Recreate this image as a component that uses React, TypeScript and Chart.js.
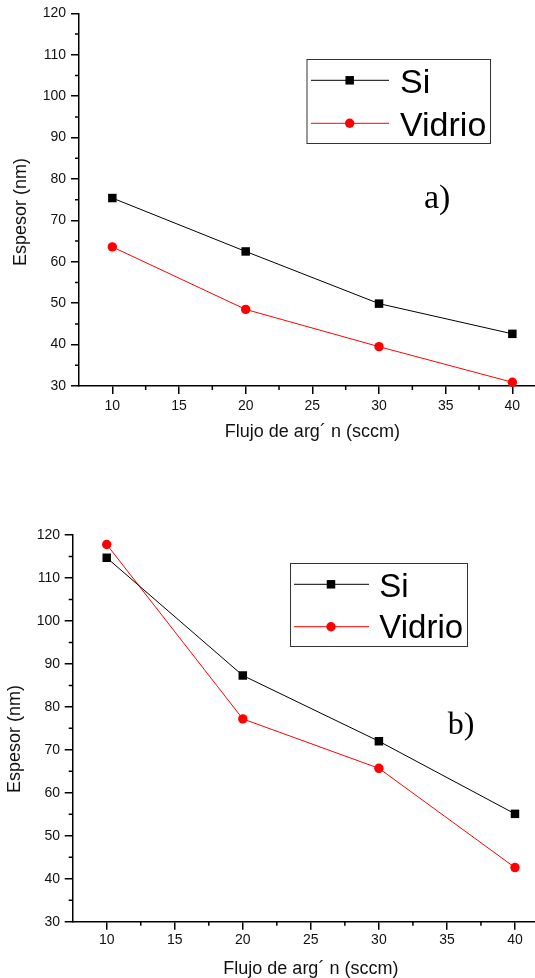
import React, { useEffect, useRef } from "react";
import { Chart, registerables } from "chart.js";

Chart.register(...registerables);

// ---- data ----
const FLOW = [10, 20, 30, 40];
const SI_A = [75.4, 62.5, 49.9, 42.6];
const VIDRIO_A = [63.6, 48.5, 39.5, 30.9];
const SI_B = [114.7, 87.3, 72.0, 55.1];
const VIDRIO_B = [117.8, 77.2, 65.7, 42.6];

const X_TICKS = [10, 15, 20, 25, 30, 35, 40];
const X_MINOR = [12.5, 17.5, 22.5, 27.5, 32.5, 37.5];
const Y_TICKS = [30, 40, 50, 60, 70, 80, 90, 100, 110, 120];
const Y_MINOR = [35, 45, 55, 65, 75, 85, 95, 105, 115];
const X_RANGE = [7.5, 42.5];
const Y_RANGE = [30, 120];

const SERIES_NAMES = ["Si", "Vidrio"];
const X_TITLE = "Flujo de arg\u00B4 n (sccm)";
const Y_TITLE = "Espesor (nm)";
const PANEL_LABELS = ["a)", "b)"];

const SANS = "Arial, 'Liberation Sans', sans-serif";
const SERIF = "'Times New Roman', 'Liberation Serif', serif";

const annotPlugin = {
  id: "annot",
  afterDraw(chart: any, _args: any, opts: any) {
    const ctx = chart.ctx as CanvasRenderingContext2D;
    const xs = chart.scales.x;
    const ys = chart.scales.y;
    ctx.save();
    // minor ticks
    ctx.strokeStyle = "#000";
    ctx.lineWidth = 1.5;
    ctx.beginPath();
    for (const v of X_MINOR) {
      const px = xs.getPixelForValue(v);
      ctx.moveTo(px, ys.bottom);
      ctx.lineTo(px, ys.bottom + 4);
    }
    for (const v of Y_MINOR) {
      const py = ys.getPixelForValue(v);
      ctx.moveTo(xs.left - 4, py);
      ctx.lineTo(xs.left, py);
    }
    ctx.stroke();

    // y axis title
    const yt = opts.yTitle;
    ctx.save();
    ctx.translate(yt.x, yt.y);
    ctx.rotate(-Math.PI / 2);
    ctx.fillStyle = "#111";
    ctx.font = `18px ${SANS}`;
    ctx.textAlign = "center";
    ctx.textBaseline = "middle";
    ctx.fillText(Y_TITLE, 0, 0);
    ctx.restore();

    // legend
    const lg = opts.legend;
    ctx.strokeStyle = "#333";
    ctx.lineWidth = 1;
    ctx.strokeRect(lg.x + 0.5, lg.y + 0.5, lg.w, lg.h);
    chart.data.datasets.forEach((ds: any, i: number) => {
      const ry = lg.rows[i];
      const by = lg.baselines[i];
      ctx.strokeStyle = ds.borderColor;
      ctx.lineWidth = 1;
      ctx.beginPath();
      ctx.moveTo(lg.x0, ry);
      ctx.lineTo(lg.x1, ry);
      ctx.stroke();
      ctx.fillStyle = ds.backgroundColor;
      if (ds.pointStyle === "rect") {
        const s = ds.pointRadius * Math.SQRT1_2;
        ctx.fillRect(lg.mx - s, ry - s, 2 * s, 2 * s);
      } else {
        ctx.beginPath();
        ctx.arc(lg.mx, ry, ds.pointRadius, 0, Math.PI * 2);
        ctx.fill();
      }
      ctx.fillStyle = "#000";
      ctx.font = `${lg.fontSize}px ${SANS}`;
      ctx.textBaseline = "alphabetic";
      ctx.textAlign = "left";
      ctx.fillText(ds.label, lg.tx, by);
    });

    // panel label
    const pl = opts.panel;
    ctx.fillStyle = "#000";
    ctx.font = `${pl.size}px ${SERIF}`;
    ctx.textBaseline = "alphabetic";
    ctx.textAlign = "left";
    ctx.fillText(pl.text, pl.x, pl.y);
    ctx.restore();
  },
};

type PanelProps = {
  si: number[];
  vidrio: number[];
  top: number;
  width: number;
  height: number;
  yAxisWidth: number;
  xAxisHeight: number;
  padTop: number;
  padRight: number;
  xTickPad: number;
  yTickPad: number;
  xTitlePad: number;
  yTitle: any;
  legend: any;
  panel: any;
};

function Panel(p: PanelProps) {
  const ref = useRef<HTMLCanvasElement | null>(null);
  useEffect(() => {
    if (!ref.current) return;
    const tickFont = { family: SANS, size: 14 };
    const titleFont = { family: SANS, size: 18, lineHeight: 1 };
    const chart = new Chart(ref.current, {
      type: "line",
      data: {
        datasets: [
          {
            label: SERIES_NAMES[0],
            data: FLOW.map((x, i) => ({ x, y: p.si[i] })),
            borderColor: "#000000",
            backgroundColor: "#000000",
            borderWidth: 1,
            pointStyle: "rect",
            pointRadius: 6,
            pointBorderWidth: 0,
            pointHoverRadius: 6,
            clip: false,
          },
          {
            label: SERIES_NAMES[1],
            data: FLOW.map((x, i) => ({ x, y: p.vidrio[i] })),
            borderColor: "#ff0000",
            backgroundColor: "#ff0000",
            borderWidth: 1,
            pointStyle: "circle",
            pointRadius: 4.7,
            pointBorderWidth: 0,
            pointHoverRadius: 4.7,
            clip: false,
          },
        ],
      },
      options: {
        animation: false,
        responsive: false,
        events: [],
        layout: { padding: { top: p.padTop, right: p.padRight, left: 0, bottom: 0 } },
        plugins: {
          legend: { display: false },
          tooltip: { enabled: false },
          annot: { legend: p.legend, panel: p.panel, yTitle: p.yTitle },
        } as any,
        scales: {
          x: {
            type: "linear",
            min: X_RANGE[0],
            max: X_RANGE[1],
            afterBuildTicks: (s: any) => {
              s.ticks = X_TICKS.map((v) => ({ value: v }));
            },
            afterFit: (s: any) => {
              s.height = p.xAxisHeight;
            },
            ticks: {
              font: tickFont,
              color: "#111",
              padding: p.xTickPad,
              maxRotation: 0,
              autoSkip: false,
              callback: (v: any) => String(v),
            },
            grid: {
              drawOnChartArea: false,
              drawTicks: true,
              tickLength: 8,
              color: "#000",
              lineWidth: 1.5,
            },
            border: { display: true, color: "#000", width: 1.5 },
            title: {
              display: true,
              text: X_TITLE,
              font: titleFont,
              color: "#111",
              padding: { top: 0, bottom: p.xTitlePad },
            },
          },
          y: {
            type: "linear",
            min: Y_RANGE[0],
            max: Y_RANGE[1],
            afterBuildTicks: (s: any) => {
              s.ticks = Y_TICKS.map((v) => ({ value: v }));
            },
            afterFit: (s: any) => {
              s.width = p.yAxisWidth;
            },
            ticks: {
              font: tickFont,
              color: "#111",
              padding: p.yTickPad,
              autoSkip: false,
              callback: (v: any) => String(v),
            },
            grid: {
              drawOnChartArea: false,
              drawTicks: true,
              tickLength: 8,
              color: "#000",
              lineWidth: 1.5,
            },
            border: { display: true, color: "#000", width: 1.5 },
            title: { display: false },
          },
        },
      },
      plugins: [annotPlugin as any],
    });
    return () => chart.destroy();
  }, []);
  return (
    <canvas
      ref={ref}
      width={p.width}
      height={p.height}
      style={{ position: "absolute", left: 0, top: p.top, width: p.width, height: p.height }}
    />
  );
}

export default function App() {
  return (
    <div
      style={{
        position: "absolute",
        left: 0,
        top: 0,
        width: 535,
        height: 978,
        overflow: "hidden",
        background: "#fff",
      }}
    >
      <Panel
        si={SI_A}
        vidrio={VIDRIO_A}
        top={0}
        width={560}
        height={450}
        yAxisWidth={79}
        xAxisHeight={64}
        padTop={13.3}
        padRight={14.3}
        xTickPad={4}
        yTickPad={5}
        xTitlePad={9}
        yTitle={{ x: 21, y: 212 }}
        legend={{
          x: 306.5,
          y: 59,
          w: 183.5,
          h: 84,
          rows: [80.3, 123.3],
          baselines: [93, 136],
          x0: 311,
          x1: 389,
          mx: 349.7,
          tx: 400,
          fontSize: 34,
        }}
        panel={{ text: PANEL_LABELS[0], x: 424, y: 208, size: 34 }}
      />
      <Panel
        si={SI_B}
        vidrio={VIDRIO_B}
        top={470}
        width={565}
        height={508}
        yAxisWidth={72.7}
        xAxisHeight={56.3}
        padTop={65}
        padRight={16}
        xTickPad={2}
        yTickPad={4.7}
        xTitlePad={0}
        yTitle={{ x: 15, y: 269 }}
        legend={{
          x: 290,
          y: 93,
          w: 177,
          h: 83,
          rows: [114.3, 156.7],
          baselines: [127.3, 168.3],
          x0: 294,
          x1: 369,
          mx: 331,
          tx: 379.3,
          fontSize: 33,
        }}
        panel={{ text: PANEL_LABELS[1], x: 447.7, y: 264.3, size: 32 }}
      />
    </div>
  );
}
